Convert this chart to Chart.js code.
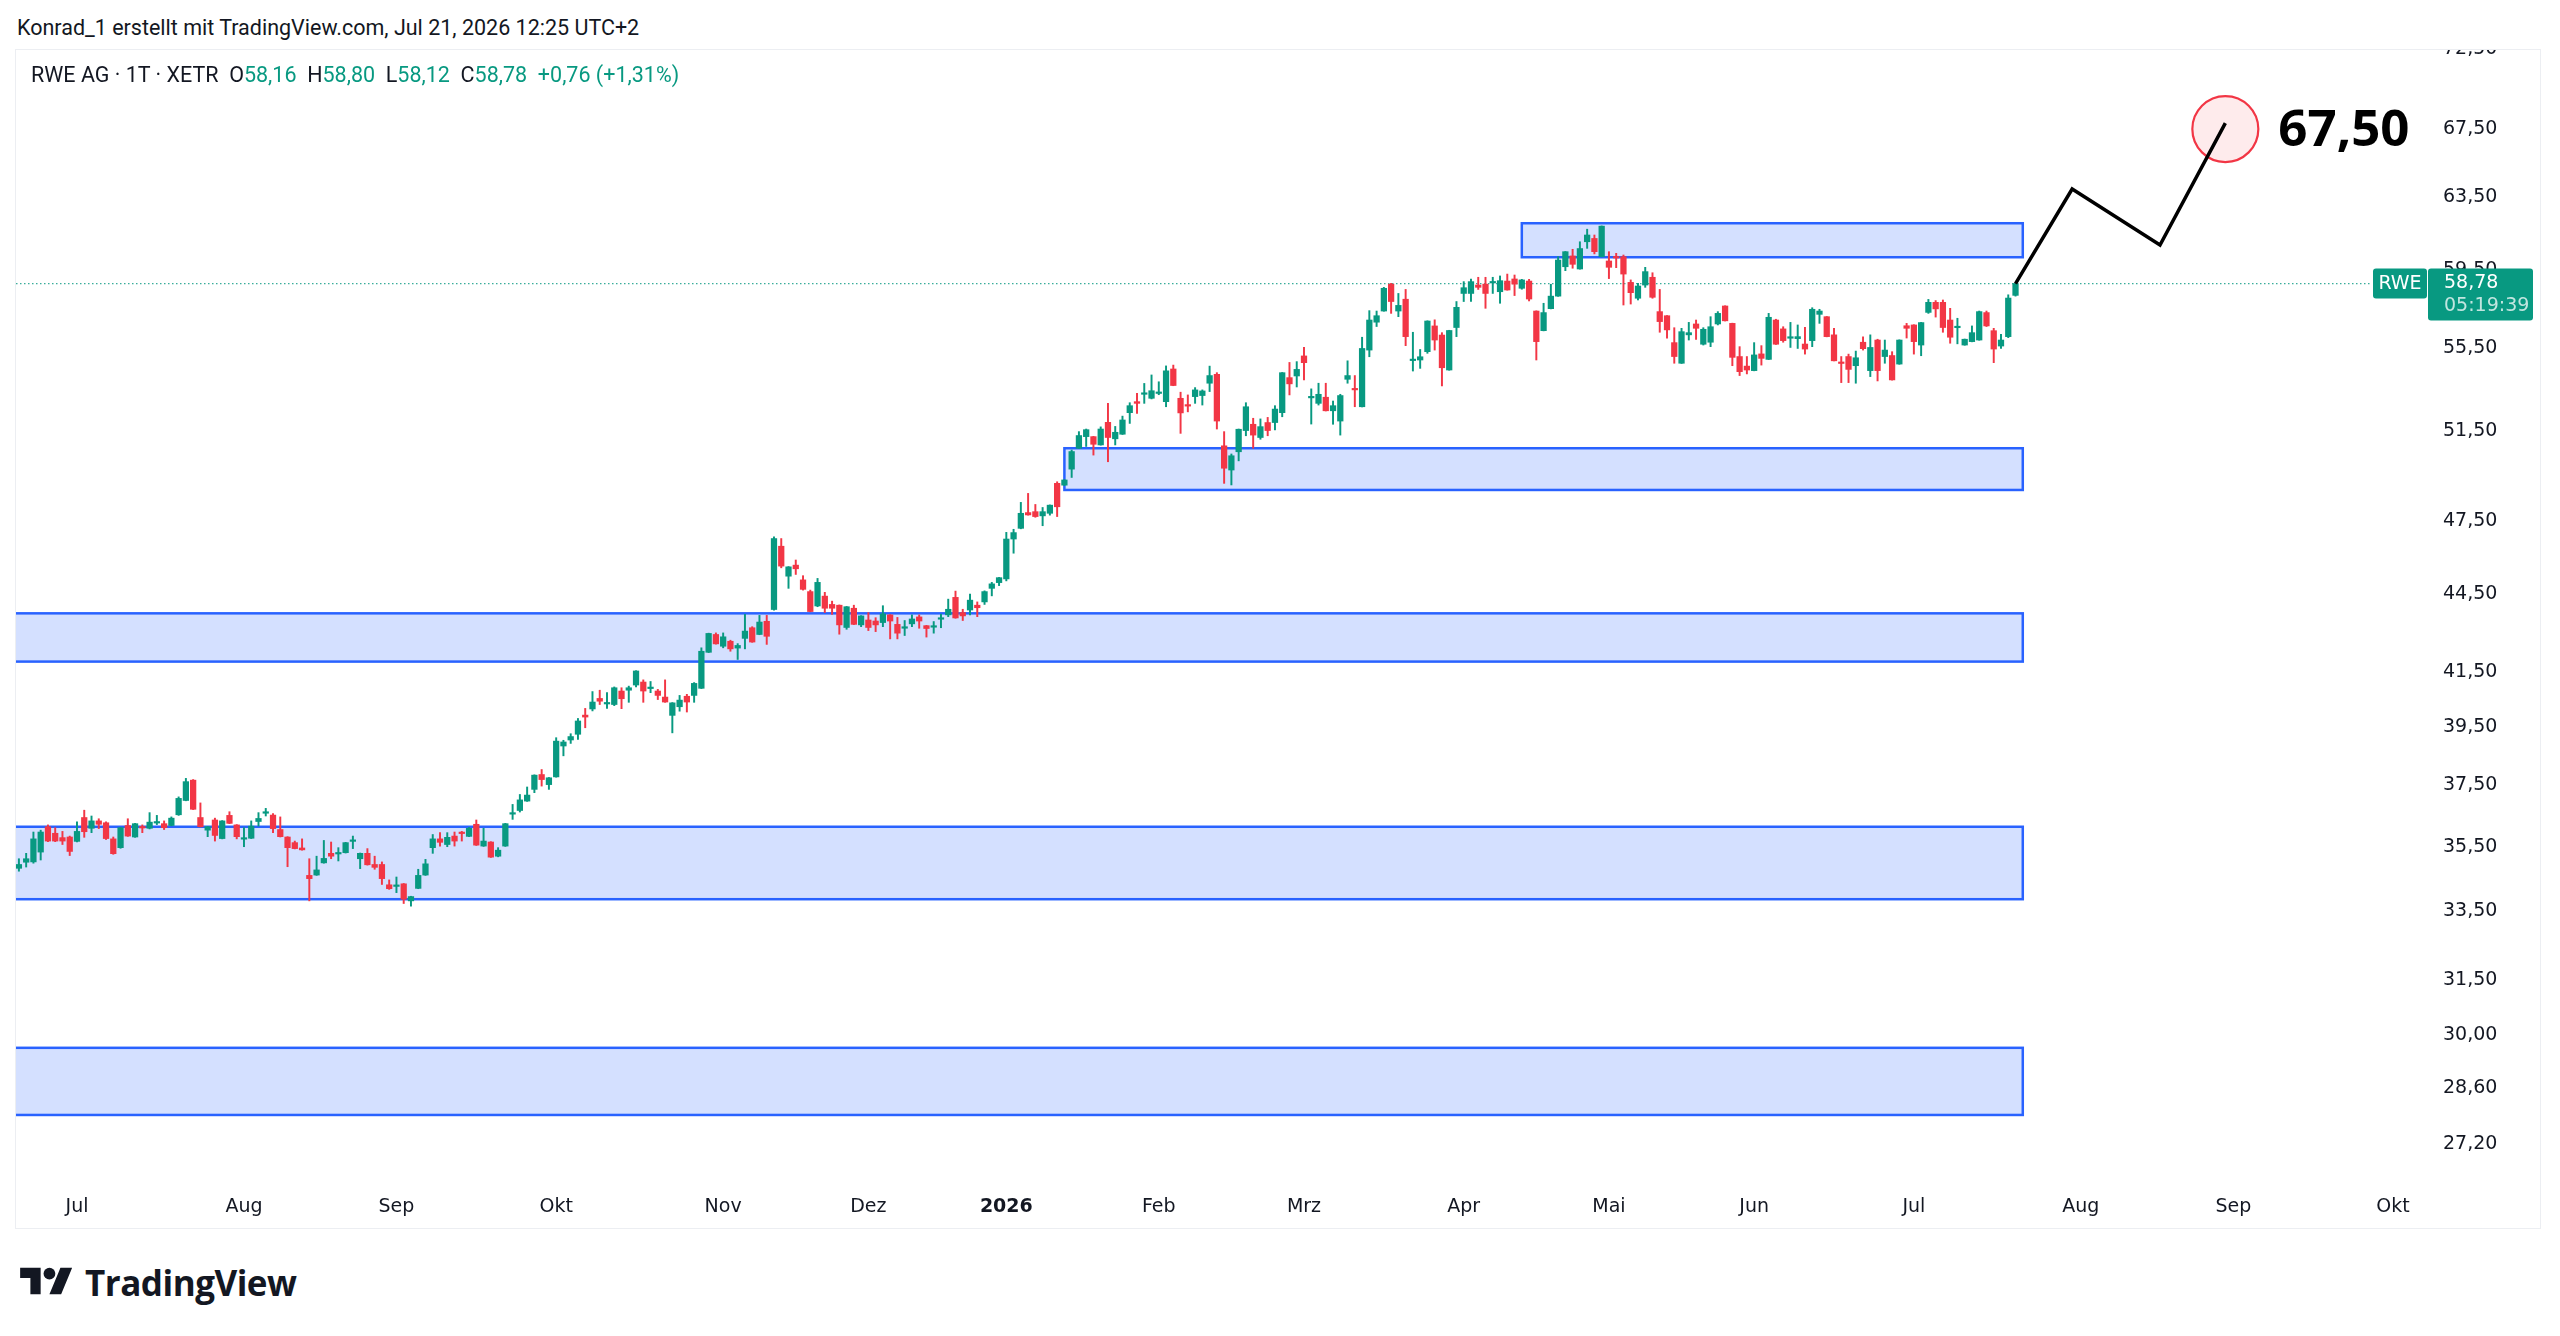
<!DOCTYPE html>
<html lang="de">
<head>
<meta charset="utf-8">
<title>RWE AG · 1T · XETR</title>
<script src="https://cdn.jsdelivr.net/npm/chart.js@4.4.1/dist/chart.umd.min.js"></script>
<style>
  html, body { margin: 0; padding: 0; background: #fff; }
  body { width: 2560px; height: 1336px; position: relative; overflow: hidden; font-family: Roboto, "DejaVu Sans", sans-serif; color: #131722; }
  #header { position: absolute; left: 17px; top: 14px; font-size: 21.5px; line-height: 28px; white-space: nowrap; }
  #pane { position: absolute; left: 15px; top: 49px; width: 2524px; height: 1178px; border: 1px solid #eceef2; }
  #legend { position: absolute; left: 31px; top: 61px; font-size: 21.5px; line-height: 28px; white-space: pre; }
  #legend .v { color: #089981; }
  #logo { position: absolute; left: 20px; top: 1262px; height: 40px; display: flex; align-items: center; gap: 12px; font-family: "Open Sans", sans-serif; font-weight: 700; font-size: 35px; letter-spacing: -0.5px; color: #131722; }
</style>
</head>
<body>
<div id="header">Konrad_1 erstellt mit TradingView.com, Jul 21, 2026 12:25 UTC+2</div>
<div id="pane"><canvas id="chart" width="2524" height="1178"></canvas></div>
<div id="legend"></div>
<div id="logo">
  <svg width="53" height="41" viewBox="0 0 36 28"><path d="M14 22H7V11H0V4h14v18zM28 22h-8l7.5-18h8L28 22z" fill="#131722"/><circle cx="20" cy="8" r="4" fill="#131722"/></svg>
  <span>TradingView</span>
</div>
<script>
// daily candles, first entry is trading day -8 (day 0 = 1 Jul 2025)
const firstDay = -8;
const open = [
  34.82, 35.01, 35.02, 35.33, 36.14, 35.93, 35.79, 35.81, 35.67, 36.44,
  36.09, 36.33, 36.27, 35.75, 35.47, 36.18, 35.81, 36.14, 36.09, 36.26,
  36.24, 36.18, 36.53, 37.00, 37.68, 36.44, 36.03, 36.36, 35.76, 36.51,
  36.20, 35.74, 35.77, 36.31, 36.58, 36.52, 36.05, 35.81, 35.63, 35.46,
  34.60, 34.61, 34.99, 35.29, 35.27, 35.31, 35.67, 35.12, 35.29, 34.94,
  34.94, 34.31, 34.26, 34.34, 33.82, 34.20, 34.61, 35.47, 35.75, 35.57,
  35.84, 35.95, 35.83, 36.22, 35.52, 35.65, 35.20, 35.52, 36.55, 36.67,
  36.98, 37.37, 37.87, 37.53, 37.79, 38.85, 39.06, 39.26, 39.94, 40.16,
  40.54, 40.34, 40.32, 40.81, 40.84, 41.03, 41.14, 40.90, 40.81, 40.59,
  39.93, 40.24, 40.62, 40.65, 40.91, 42.25, 42.93, 42.48, 42.67, 42.41,
  42.78, 43.19, 42.93, 43.44, 43.90, 46.46, 45.23, 45.68, 45.08, 44.61,
  44.04, 44.43, 44.10, 44.07, 43.20, 43.95, 43.30, 43.49, 43.45, 43.39,
  43.69, 43.32, 43.17, 43.34, 43.61, 43.27, 43.21, 43.52, 43.69, 44.38,
  43.78, 43.88, 44.07, 44.20, 44.74, 44.97, 45.12, 46.76, 47.21, 47.88,
  47.92, 47.74, 47.85, 49.15, 49.07, 49.78, 50.72, 51.25, 51.25, 50.87,
  51.91, 51.15, 51.36, 52.36, 52.88, 53.23, 53.04, 53.27, 52.88, 54.45,
  53.04, 52.74, 53.12, 53.17, 53.76, 54.19, 50.83, 49.74, 50.56, 51.53,
  51.82, 51.21, 51.90, 51.90, 52.36, 54.03, 54.11, 55.09, 53.06, 52.80,
  53.09, 52.45, 51.97, 53.95, 53.50, 52.64, 55.38, 56.78, 57.35, 58.75,
  57.35, 57.96, 54.86, 54.89, 55.30, 56.59, 56.13, 54.40, 56.51, 58.26,
  58.26, 58.70, 58.75, 58.81, 58.35, 58.91, 59.02, 58.53, 58.91, 57.35,
  56.35, 57.47, 58.12, 59.67, 60.25, 59.55, 61.02, 61.20, 60.21, 59.98,
  60.21, 60.21, 58.84, 58.01, 58.70, 59.11, 57.32, 57.11, 55.75, 54.73,
  56.14, 56.69, 55.67, 55.77, 56.69, 57.61, 56.72, 55.06, 54.59, 54.37,
  55.19, 54.92, 56.89, 56.44, 55.97, 55.95, 55.68, 55.85, 57.18, 57.06,
  56.14, 54.79, 55.06, 54.61, 55.77, 54.37, 55.88, 55.06, 55.11, 54.69,
  56.60, 56.64, 55.63, 57.28, 57.80, 57.80, 56.89, 56.50, 55.63, 55.80,
  55.88, 57.27, 56.35, 55.58, 56.05, 58.16
];
const high = [
  35.12, 35.29, 35.97, 36.03, 36.20, 36.11, 35.99, 35.84, 36.30, 36.68,
  36.49, 36.40, 36.30, 35.81, 36.12, 36.40, 36.25, 36.20, 36.60, 36.51,
  36.33, 36.46, 37.12, 37.74, 37.70, 36.92, 36.15, 36.42, 36.34, 36.63,
  36.21, 36.11, 36.33, 36.60, 36.74, 36.57, 36.46, 35.82, 35.68, 35.75,
  35.12, 35.20, 35.70, 35.65, 35.47, 35.64, 35.84, 35.30, 35.44, 35.20,
  35.02, 34.46, 34.55, 34.35, 33.96, 34.79, 35.10, 35.89, 35.95, 35.95,
  35.97, 35.99, 36.12, 36.36, 36.09, 35.66, 35.47, 36.25, 36.87, 37.20,
  37.45, 37.86, 38.04, 37.77, 39.14, 39.05, 39.28, 39.82, 40.18, 40.79,
  40.84, 40.75, 40.96, 40.93, 40.99, 41.56, 41.22, 41.16, 40.87, 41.22,
  40.39, 40.65, 40.69, 41.12, 42.42, 42.98, 42.99, 42.99, 42.71, 42.58,
  43.71, 43.23, 43.67, 43.67, 46.85, 46.78, 45.62, 45.89, 45.25, 44.67,
  45.14, 44.58, 44.23, 44.08, 44.02, 44.07, 43.66, 43.78, 43.58, 44.05,
  43.70, 43.59, 43.47, 43.69, 43.69, 43.28, 43.43, 43.72, 44.31, 44.63,
  43.91, 44.51, 44.20, 44.64, 44.98, 45.18, 47.04, 47.17, 48.32, 48.71,
  48.23, 48.10, 48.21, 49.22, 49.31, 50.64, 51.48, 51.60, 51.26, 51.70,
  52.80, 51.72, 52.20, 52.83, 53.27, 53.75, 54.16, 53.83, 54.60, 54.64,
  53.33, 53.20, 53.55, 53.44, 54.59, 54.27, 51.48, 50.46, 51.60, 52.83,
  52.10, 52.07, 52.14, 52.69, 54.28, 54.77, 54.81, 55.51, 53.49, 53.76,
  53.76, 52.91, 53.23, 54.85, 54.13, 56.02, 57.37, 57.35, 58.58, 58.79,
  58.26, 58.47, 56.27, 55.41, 56.85, 56.90, 56.25, 56.37, 57.84, 58.88,
  59.02, 59.11, 59.11, 59.11, 59.18, 59.28, 59.23, 59.00, 59.00, 57.36,
  57.75, 58.74, 60.21, 60.49, 60.61, 61.02, 61.71, 61.39, 61.89, 60.48,
  60.39, 60.30, 58.97, 58.79, 59.64, 59.35, 58.47, 57.12, 56.50, 56.47,
  56.77, 56.89, 56.50, 57.06, 57.32, 57.62, 56.73, 55.55, 55.06, 55.75,
  55.60, 57.23, 56.93, 56.55, 56.77, 56.64, 56.52, 57.52, 57.44, 57.07,
  56.47, 55.06, 55.18, 55.33, 56.04, 56.14, 55.92, 55.88, 55.30, 55.89,
  56.72, 56.65, 56.77, 57.95, 57.89, 57.92, 57.49, 56.98, 55.93, 56.59,
  57.35, 57.35, 56.47, 56.17, 58.19, 58.80
];
const low = [
  34.73, 34.86, 34.98, 35.08, 35.66, 35.66, 35.57, 35.22, 35.65, 35.80,
  35.95, 36.08, 35.73, 35.26, 35.45, 35.83, 35.80, 35.95, 36.07, 36.21,
  36.05, 36.17, 36.51, 36.99, 36.70, 36.13, 35.82, 35.68, 35.75, 36.24,
  35.75, 35.50, 35.76, 36.16, 36.49, 35.95, 35.81, 34.87, 35.43, 35.39,
  33.82, 34.60, 34.98, 35.12, 35.05, 35.30, 35.44, 34.81, 34.92, 34.79,
  34.32, 34.17, 34.07, 33.74, 33.66, 34.19, 34.60, 35.29, 35.52, 35.50,
  35.52, 35.68, 35.82, 35.54, 35.51, 35.16, 35.18, 35.51, 36.38, 36.62,
  36.97, 37.26, 37.48, 37.37, 37.78, 38.51, 38.94, 39.08, 39.49, 40.09,
  40.32, 40.18, 40.28, 40.17, 40.40, 40.96, 40.40, 40.75, 40.50, 40.40,
  39.31, 40.08, 40.05, 40.40, 40.90, 42.24, 42.56, 42.42, 42.29, 41.98,
  42.38, 42.63, 42.92, 42.55, 43.87, 45.57, 44.74, 45.30, 44.67, 43.81,
  44.01, 43.78, 43.71, 42.94, 43.13, 43.31, 43.23, 43.08, 43.04, 43.23,
  42.76, 42.76, 42.89, 43.23, 43.17, 42.83, 42.98, 43.19, 43.62, 43.56,
  43.47, 43.69, 43.62, 44.10, 44.44, 44.85, 45.04, 46.17, 47.19, 47.77,
  47.68, 47.32, 47.77, 47.71, 49.06, 49.41, 50.71, 50.80, 50.41, 50.86,
  50.11, 50.87, 51.35, 51.86, 52.33, 52.80, 53.01, 53.21, 52.64, 53.64,
  51.40, 52.40, 52.80, 52.72, 53.36, 51.60, 49.15, 49.08, 50.15, 51.29,
  50.72, 51.13, 51.29, 51.56, 52.17, 53.20, 53.58, 53.92, 51.83, 52.72,
  52.44, 51.82, 51.32, 53.76, 52.64, 52.63, 55.05, 56.56, 57.34, 57.23,
  57.06, 55.60, 54.35, 54.48, 55.22, 55.38, 53.63, 54.39, 56.05, 57.84,
  57.84, 58.47, 57.49, 58.26, 57.75, 58.43, 58.15, 58.48, 57.87, 54.89,
  56.34, 57.46, 58.11, 59.46, 59.59, 59.54, 60.66, 60.36, 60.20, 59.04,
  59.62, 57.66, 57.71, 57.92, 58.58, 58.01, 56.27, 55.97, 54.73, 54.72,
  55.88, 55.91, 55.63, 55.55, 56.64, 56.84, 54.61, 54.13, 54.21, 54.36,
  54.64, 54.91, 55.66, 55.77, 55.51, 55.46, 55.18, 55.55, 56.72, 56.04,
  54.84, 53.79, 53.79, 53.76, 55.38, 54.08, 53.87, 54.73, 53.91, 54.68,
  55.98, 55.18, 55.10, 57.23, 57.04, 56.27, 55.72, 55.69, 55.62, 55.79,
  55.87, 56.56, 54.76, 55.46, 56.00, 58.12
];
const close = [
  34.94, 35.12, 35.75, 35.97, 35.68, 35.68, 35.68, 35.35, 35.99, 35.98,
  36.33, 36.22, 35.76, 35.28, 36.11, 35.84, 36.24, 36.10, 36.29, 36.29,
  36.11, 36.42, 37.07, 37.63, 36.71, 36.14, 36.14, 35.86, 36.33, 36.25,
  35.82, 35.77, 36.16, 36.41, 36.60, 36.08, 35.82, 35.47, 35.44, 35.40,
  34.50, 34.77, 35.13, 35.20, 35.30, 35.63, 35.69, 35.29, 34.93, 34.85,
  34.50, 34.19, 34.29, 33.87, 33.95, 34.60, 34.96, 35.75, 35.64, 35.80,
  35.68, 35.92, 36.09, 35.55, 35.68, 35.17, 35.39, 36.24, 36.58, 37.02,
  37.18, 37.85, 37.70, 37.76, 39.02, 38.99, 39.18, 39.73, 39.87, 40.41,
  40.44, 40.37, 40.93, 40.53, 40.93, 41.55, 40.81, 40.93, 40.65, 40.41,
  40.38, 40.48, 40.41, 41.09, 42.29, 42.97, 42.57, 42.84, 42.38, 42.51,
  43.06, 42.64, 43.41, 42.86, 46.78, 45.64, 45.61, 45.53, 44.70, 43.82,
  44.98, 43.95, 43.95, 43.30, 44.01, 43.32, 43.65, 43.20, 43.30, 43.73,
  43.45, 42.98, 43.21, 43.53, 43.45, 43.16, 43.25, 43.56, 43.91, 43.57,
  43.65, 44.27, 43.97, 44.61, 44.92, 45.17, 46.76, 47.03, 47.85, 47.78,
  47.71, 47.92, 48.20, 48.13, 49.30, 50.57, 51.30, 51.57, 50.90, 51.60,
  51.21, 51.45, 52.02, 52.69, 52.80, 53.27, 53.40, 53.31, 54.36, 53.65,
  52.35, 52.67, 53.44, 53.39, 54.13, 51.97, 49.82, 50.38, 51.59, 52.64,
  51.32, 51.71, 51.53, 52.53, 54.27, 53.73, 54.43, 54.76, 53.11, 53.23,
  52.45, 52.69, 53.17, 54.13, 53.44, 55.46, 56.89, 57.11, 58.53, 57.84,
  57.64, 56.05, 54.89, 55.05, 56.84, 55.88, 54.51, 56.36, 57.54, 58.56,
  58.88, 58.58, 58.26, 58.86, 58.93, 58.44, 58.75, 58.97, 57.97, 55.80,
  57.27, 58.12, 60.03, 60.48, 59.80, 60.65, 61.39, 60.48, 61.88, 59.64,
  60.14, 59.28, 58.30, 58.65, 59.41, 58.06, 56.81, 56.39, 55.06, 56.30,
  56.25, 56.47, 56.42, 56.55, 57.23, 56.85, 55.02, 54.32, 54.40, 55.14,
  54.97, 57.03, 55.67, 55.85, 56.02, 56.05, 55.43, 57.44, 57.35, 56.05,
  54.85, 54.72, 54.43, 55.00, 55.45, 55.51, 54.37, 55.38, 53.92, 55.88,
  56.47, 55.80, 56.76, 57.80, 57.46, 56.51, 56.02, 56.55, 55.92, 56.25,
  57.32, 56.59, 55.43, 55.88, 58.02, 58.78
];

// time axis: label and trading day it sits on
const monthLabels = ['Jul', 'Aug', 'Sep', 'Okt', 'Nov', 'Dez', '2026', 'Feb', 'Mrz', 'Apr', 'Mai', 'Jun', 'Jul', 'Aug', 'Sep', 'Okt'];
const monthDays = [0, 23, 44, 66, 89, 109, 128, 149, 169, 191, 211, 231, 253, 276, 297, 319];

// price axis labels (log scale)
const priceTicks = [72.5, 67.5, 63.5, 59.5, 55.5, 51.5, 47.5, 44.5, 41.5, 39.5, 37.5, 35.5, 33.5, 31.5, 30.0, 28.6, 27.2];

// drawn zones
const zoneFrom = [199, 136, -20, -20, -20];
const zoneTo = [268, 268, 268, 268, 268];
const zoneHigh = [62.04, 50.72, 43.75, 36.14, 29.65];
const zoneLow = [60.18, 48.86, 41.90, 33.87, 27.92];

// projected path and target
const pathDays = [267, 274.8, 286.9, 295.9];
const pathPrices = [58.78, 63.97, 60.84, 67.86];
const targetDay = 295.9;
const targetPrice = 67.5;

const symbol = 'RWE';
const countdown = '05:19:39';

const up = '#089981';
const down = '#f23645';
const fmt = v => v.toFixed(2).replace('.', ',');

const days = close.map((c, i) => firstDay + i);
const colors = close.map((c, i) => c >= open[i] ? up : down);
const last = close.length - 1;

// ohlc legend
const chg = close[last] - close[last - 1];
const pct = chg / close[last - 1] * 100;
const sign = chg >= 0 ? '+' : '−';
document.getElementById('legend').innerHTML =
  'RWE AG · 1T · XETR  O<span class="v">' + fmt(open[last]) + '</span>  H<span class="v">' + fmt(high[last]) +
  '</span>  L<span class="v">' + fmt(low[last]) + '</span>  C<span class="v">' + fmt(close[last]) +
  '</span>  <span class="v">' + sign + fmt(Math.abs(chg)) + ' (' + sign + fmt(Math.abs(pct)) + '%)</span>';

function roundRect(ctx, x, y, w, h, r) {
  ctx.beginPath();
  ctx.moveTo(x + r, y);
  ctx.arcTo(x + w, y, x + w, y + h, r);
  ctx.arcTo(x + w, y + h, x, y + h, r);
  ctx.arcTo(x, y + h, x, y, r);
  ctx.arcTo(x, y, x + w, y, r);
  ctx.closePath();
}

const overlay = {
  id: 'overlay',
  beforeDatasetsDraw(chart) {
    const { ctx, chartArea: a, scales: { x, y } } = chart;
    ctx.save();
    ctx.beginPath();
    ctx.rect(a.left, a.top, a.width, a.height);
    ctx.clip();

    //zones
    zoneHigh.forEach((hi, i) => {
      const x1 = x.getPixelForValue(zoneFrom[i]);
      const x2 = x.getPixelForValue(zoneTo[i]);
      const y1 = y.getPixelForValue(hi);
      const y2 = y.getPixelForValue(zoneLow[i]);
      ctx.fillStyle = 'rgba(41, 98, 255, 0.2)';
      ctx.fillRect(x1, y1, x2 - x1, y2 - y1);
      ctx.strokeStyle = '#2962ff';
      ctx.lineWidth = 2.5;
      ctx.strokeRect(x1, y1, x2 - x1, y2 - y1);
    });

    //last price line
    const py = y.getPixelForValue(close[last]);
    ctx.strokeStyle = 'rgba(8, 153, 129, 0.8)';
    ctx.lineWidth = 1.3;
    ctx.setLineDash([1.5, 2.5]);
    ctx.beginPath();
    ctx.moveTo(a.left, py);
    ctx.lineTo(a.right, py);
    ctx.stroke();
    ctx.setLineDash([]);

    //target circle
    const cx = x.getPixelForValue(targetDay);
    const cy = y.getPixelForValue(targetPrice);
    ctx.beginPath();
    ctx.arc(cx, cy, 33, 0, Math.PI * 2);
    ctx.fillStyle = 'rgba(242, 54, 69, 0.1)';
    ctx.fill();
    ctx.strokeStyle = down;
    ctx.lineWidth = 2.2;
    ctx.stroke();
    ctx.restore();
  },
  afterDraw(chart) {
    const { ctx, chartArea: a, scales: { x, y } } = chart;
    ctx.save();

    //target label
    const cx = x.getPixelForValue(targetDay);
    const cy = y.getPixelForValue(targetPrice);
    ctx.font = 'bold 51px "Open Sans"';
    ctx.fillStyle = '#000';
    ctx.textAlign = 'left';
    ctx.textBaseline = 'alphabetic';
    ctx.fillText(fmt(targetPrice), cx + 53, cy + 17);

    //symbol and price tags on the axis
    const py = y.getPixelForValue(close[last]);
    ctx.fillStyle = up;
    roundRect(ctx, a.right + 1, py - 15, 54, 30, 3);
    ctx.fill();
    roundRect(ctx, a.right + 56, py - 15, 105, 52, 3);
    ctx.fill();

    ctx.font = '19px "DejaVu Sans"';
    ctx.textBaseline = 'middle';
    ctx.textAlign = 'center';
    ctx.fillStyle = '#fff';
    ctx.fillText(symbol, a.right + 28, py + 1);
    ctx.textAlign = 'left';
    ctx.fillText(fmt(close[last]), a.right + 72, py);
    ctx.fillStyle = 'rgba(255, 255, 255, 0.75)';
    ctx.fillText(countdown, a.right + 72, py + 23);
    ctx.restore();
  }
};

new Chart(document.getElementById('chart'), {
  type: 'bar',
  data: {
    datasets: [
      {
        type: 'line',
        data: pathDays.map((d, i) => ({ x: d, y: pathPrices[i] })),
        borderColor: '#000',
        borderWidth: 3.5,
        borderJoinStyle: 'miter',
        pointRadius: 0,
        fill: false,
        tension: 0,
        order: 0
      },
      {
        //bodies
        data: days.map((d, i) => ({ x: d, y: [open[i], close[i]] })),
        backgroundColor: colors,
        barThickness: 5.6,
        minBarLength: 1.5,
        grouped: false,
        order: 1
      },
      {
        //wicks
        data: days.map((d, i) => ({ x: d, y: [low[i], high[i]] })),
        backgroundColor: colors,
        barThickness: 1.3,
        grouped: false,
        order: 2
      }
    ]
  },
  options: {
    responsive: false,
    animation: false,
    events: [],
    layout: { padding: 0 },
    plugins: {
      legend: { display: false },
      tooltip: { enabled: false }
    },
    scales: {
      x: {
        type: 'linear',
        min: -8.4,
        max: 316.1,
        bounds: 'data',
        offset: false,
        grid: { display: false, drawTicks: false },
        border: { display: false },
        afterBuildTicks: s => { s.ticks = monthDays.map(v => ({ value: v })); },
        afterFit: s => { s.height = 45; s.paddingLeft = 0; s.paddingRight = 0; },
        ticks: {
          autoSkip: false,
          maxRotation: 0,
          padding: 13,
          color: '#131722',
          font: ctx => ({ family: 'DejaVu Sans', size: 19, weight: monthLabels[ctx.index] === '2026' ? 'bold' : 'normal' }),
          callback: (v, i) => monthLabels[i]
        }
      },
      y: {
        type: 'logarithmic',
        position: 'right',
        min: 26.27,
        max: 72.45,
        bounds: 'data',
        grid: { display: false, drawTicks: false },
        border: { display: false },
        afterBuildTicks: s => { s.ticks = priceTicks.map(v => ({ value: v })); },
        afterFit: s => { s.width = 168; s.paddingTop = 0; s.paddingBottom = 0; },
        ticks: {
          autoSkip: false,
          padding: 71,
          color: '#131722',
          font: { family: 'DejaVu Sans', size: 19 },
          callback: v => fmt(v)
        }
      }
    }
  },
  plugins: [overlay]
});
</script>
</body>
</html>
